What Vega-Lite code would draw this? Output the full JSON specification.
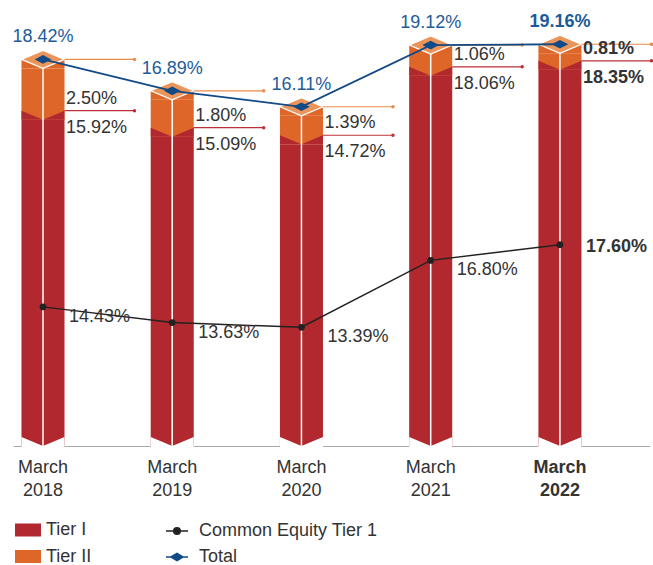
{
  "$schema": "https://vega.github.io/schema/vega-lite/v6.json",
  "width": 637,
  "height": 436,
  "autosize": "none",
  "padding": {"left": 13, "top": 10, "right": 3, "bottom": 119},
  "config": {
    "view": {"stroke": null},
    "font": "Liberation Sans",
    "text": {"font": "Liberation Sans", "fontSize": 18},
    "axisY": {"disable": true}
  },
  "data": {
    "values": [
      {"year": "March 2018", "tier1": 0.1592, "tier2": 0.0250, "total": 0.1842, "cet1": 0.1443},
      {"year": "March 2019", "tier1": 0.1509, "tier2": 0.0180, "total": 0.1689, "cet1": 0.1363},
      {"year": "March 2020", "tier1": 0.1472, "tier2": 0.0139, "total": 0.1611, "cet1": 0.1339},
      {"year": "March 2021", "tier1": 0.1806, "tier2": 0.0106, "total": 0.1912, "cet1": 0.1680},
      {"year": "March 2022", "tier1": 0.1835, "tier2": 0.0081, "total": 0.1916, "cet1": 0.1760}
    ]
  },
  "encoding": {
    "x": {
      "field": "year",
      "type": "ordinal",
      "sort": null,
      "scale": {"paddingInner": 0.667, "paddingOuter": 0.298, "align": 0.11},
      "axis": {
        "title": null,
        "ticks": false,
        "domainColor": "#a8a8a8",
        "domainWidth": 1.2,
        "labelExpr": "split(datum.label, ' ')",
        "labelFont": "Liberation Sans",
        "labelFontSize": 18,
        "labelColor": "#333333",
        "labelLineHeight": 23,
        "labelPadding": 12,
        "labelAngle": 0,
        "labelFontWeight": {"condition": {"test": "datum.value === 'March 2022'", "value": "bold"}, "value": "normal"}
      }
    }
  },
  "resolve": {"scale": {"y": "independent"}},
  "layer": [
    {
      "layer": [
        {
          "mark": {"type": "bar"},
          "encoding": {
            "y": {"field": "tier1", "type": "quantitative", "scale": {"domain": [0, 0.2127], "nice": false}},
            "fill": {
              "datum": "Tier I",
              "type": "nominal",
              "scale": {"domain": ["Tier I", "Tier II"], "range": ["#b1282e", "#de6628"]},
              "legend": {
                "title": null,
                "orient": "none",
                "legendX": 2,
                "legendY": 507,
                "symbolType": "M-1,-0.5L1,-0.5L1,0.5L-1,0.5Z",
                "symbolSize": 676,
                "symbolStrokeWidth": 0,
                "symbolOpacity": 1,
                "labelFont": "Liberation Sans",
                "labelFontSize": 18,
                "labelColor": "#333333",
                "labelOffset": 5,
                "labelLimit": 300,
                "rowPadding": 4.5,
                "padding": 0
              }
            }
          }
        },
        {
          "mark": {"type": "bar"},
          "encoding": {
            "y": {"field": "total", "type": "quantitative"},
            "y2": {"field": "tier1"},
            "fill": {"datum": "Tier II", "type": "nominal"}
          }
        },
        {
          "mark": {"type": "point", "shape": "M-1,-0.42L0,0L1,-0.42L1,0L-1,0Z", "size": 1849, "filled": true, "color": "#b1282e", "fill": "#b1282e", "opacity": 1, "strokeWidth": 0},
          "encoding": {"y": {"field": "tier1", "type": "quantitative"}}
        },
        {
          "mark": {"type": "point", "shape": "M-1,-0.42L0,0L1,-0.42L1,0L-1,0Z", "size": 1849, "filled": true, "color": "#de6628", "fill": "#de6628", "opacity": 1, "strokeWidth": 0},
          "encoding": {"y": {"field": "total", "type": "quantitative"}}
        },
        {
          "mark": {"type": "point", "shape": "M-1,-0.42L0,-0.84L1,-0.42L0,0Z", "size": 1849, "filled": true, "color": "#ec955a", "fill": "#ec955a", "stroke": "#ffffff", "strokeWidth": 1.2, "opacity": 1},
          "encoding": {"y": {"field": "total", "type": "quantitative"}}
        },
        {
          "mark": {"type": "point", "shape": "M-1,-0.42L0,0L1,-0.42L1,0.05L-1,0.05Z", "size": 1849, "filled": true, "color": "#ffffff", "fill": "#ffffff", "opacity": 1, "strokeWidth": 0},
          "encoding": {"y": {"datum": 0, "type": "quantitative"}}
        },
        {
          "mark": {"type": "rule", "color": "#ffffff", "strokeWidth": 1.5},
          "encoding": {"y": {"field": "total", "type": "quantitative"}, "y2": {"datum": 0}}
        },
        {
          "mark": {"type": "rule", "color": "#ec8a4a", "strokeWidth": 1.2, "xOffset": 21.5, "x2Offset": 91.5, "yOffset": -9},
          "encoding": {"x2": {"field": "year"}, "y": {"field": "total", "type": "quantitative"}}
        },
        {
          "mark": {"type": "rule", "color": "#bd3038", "strokeWidth": 1.2, "xOffset": 21.5, "x2Offset": 91.5, "yOffset": -9},
          "encoding": {"x2": {"field": "year"}, "y": {"field": "tier1", "type": "quantitative"}}
        },
        {
          "mark": {"type": "point", "shape": "circle", "size": 12, "filled": true, "color": "#ec8a4a", "opacity": 1, "xOffset": 91.5, "yOffset": -9},
          "encoding": {"y": {"field": "total", "type": "quantitative"}}
        },
        {
          "mark": {"type": "point", "shape": "circle", "size": 12, "filled": true, "color": "#bd3038", "opacity": 1, "xOffset": 91.5, "yOffset": -9},
          "encoding": {"y": {"field": "tier1", "type": "quantitative"}}
        },
        {
          "mark": {"type": "line", "strokeWidth": 1.8, "yOffset": -9},
          "encoding": {
            "y": {"field": "total", "type": "quantitative"},
            "stroke": {
              "datum": "Total",
              "type": "nominal",
              "scale": {"domain": ["Common Equity Tier 1", "Total"], "range": ["#222222", "#114a86"]},
              "legend": {
                "title": null,
                "orient": "none",
                "legendX": 152,
                "legendY": 509,
                "symbolType": "M-1,0L1,0M0.3,0A0.3,0.3,0,1,1,-0.3,0A0.3,0.3,0,1,1,0.3,0Z",
                "symbolSize": 484,
                "symbolStrokeWidth": 1.5,
                "symbolOpacity": 1,
                "labelFont": "Liberation Sans",
                "labelFontSize": 18,
                "labelColor": "#333333",
                "labelOffset": 10,
                "labelLimit": 300,
                "rowPadding": 5,
                "padding": 0,
                "encode": {
                  "symbols": {
                    "update": {
                      "shape": {"signal": "datum.value === 'Total' ? 'M-1,0L1,0M-0.55,0L0,-0.33L0.55,0L0,0.33Z' : 'M-1,0L1,0M0.3,0A0.3,0.3,0,1,1,-0.3,0A0.3,0.3,0,1,1,0.3,0Z'"},
                      "fill": {"signal": "datum.value === 'Total' ? '#114a86' : '#222222'"}
                    }
                  }
                }
              }
            }
          }
        },
        {
          "mark": {"type": "point", "shape": "M-1,0L0,-0.52L1,0L0,0.52Z", "size": 279, "filled": true, "color": "#114a86", "opacity": 1, "yOffset": -9},
          "encoding": {"y": {"field": "total", "type": "quantitative"}}
        },
        {
          "transform": [{"filter": "datum.year !== 'March 2022'"}],
          "mark": {"type": "text", "align": "center", "baseline": "middle", "dy": -31, "color": "#1c5c9a", "fontSize": 18},
          "encoding": {"y": {"field": "total", "type": "quantitative"}, "text": {"field": "total", "type": "quantitative", "format": ".2%"}}
        },
        {
          "transform": [{"filter": "datum.year === 'March 2022'"}],
          "mark": {"type": "text", "align": "center", "baseline": "middle", "dy": -31, "color": "#1c5c9a", "fontSize": 18, "fontWeight": "bold"},
          "encoding": {"y": {"field": "total", "type": "quantitative"}, "text": {"field": "total", "type": "quantitative", "format": ".2%"}}
        },
        {
          "transform": [{"filter": "datum.year !== 'March 2022'"}],
          "mark": {"type": "text", "align": "left", "baseline": "middle", "dx": 23, "dy": -21, "color": "#333333", "fontSize": 18},
          "encoding": {"y": {"field": "tier1", "type": "quantitative"}, "text": {"field": "tier2", "type": "quantitative", "format": ".2%"}}
        },
        {
          "transform": [{"filter": "datum.year === 'March 2022'"}],
          "mark": {"type": "text", "align": "left", "baseline": "middle", "dx": 23, "dy": -21, "color": "#333333", "fontSize": 18, "fontWeight": "bold"},
          "encoding": {"y": {"field": "tier1", "type": "quantitative"}, "text": {"field": "tier2", "type": "quantitative", "format": ".2%"}}
        },
        {
          "transform": [{"filter": "datum.year !== 'March 2022'"}],
          "mark": {"type": "text", "align": "left", "baseline": "middle", "dx": 23, "dy": 8, "color": "#333333", "fontSize": 18},
          "encoding": {"y": {"field": "tier1", "type": "quantitative"}, "text": {"field": "tier1", "type": "quantitative", "format": ".2%"}}
        },
        {
          "transform": [{"filter": "datum.year === 'March 2022'"}],
          "mark": {"type": "text", "align": "left", "baseline": "middle", "dx": 23, "dy": 8, "color": "#333333", "fontSize": 18, "fontWeight": "bold"},
          "encoding": {"y": {"field": "tier1", "type": "quantitative"}, "text": {"field": "tier1", "type": "quantitative", "format": ".2%"}}
        }
      ]
    },
    {
      "layer": [
        {
          "mark": {"type": "line", "strokeWidth": 1.5},
          "encoding": {
            "y": {"field": "cet1", "type": "quantitative", "scale": {"domain": [0.0734, 0.2956], "nice": false, "zero": false}},
            "stroke": {"datum": "Common Equity Tier 1", "type": "nominal"}
          }
        },
        {
          "mark": {"type": "point", "shape": "circle", "size": 45, "filled": true, "color": "#222222", "opacity": 1},
          "encoding": {"y": {"field": "cet1", "type": "quantitative"}}
        },
        {
          "transform": [{"filter": "datum.year !== 'March 2022'"}],
          "mark": {"type": "text", "align": "left", "baseline": "middle", "dx": 26, "dy": 10, "color": "#333333", "fontSize": 18},
          "encoding": {"y": {"field": "cet1", "type": "quantitative"}, "text": {"field": "cet1", "type": "quantitative", "format": ".2%"}}
        },
        {
          "transform": [{"filter": "datum.year === 'March 2022'"}],
          "mark": {"type": "text", "align": "left", "baseline": "middle", "dx": 26, "dy": 2, "color": "#333333", "fontSize": 18, "fontWeight": "bold"},
          "encoding": {"y": {"field": "cet1", "type": "quantitative"}, "text": {"field": "cet1", "type": "quantitative", "format": ".2%"}}
        }
      ]
    }
  ]
}
